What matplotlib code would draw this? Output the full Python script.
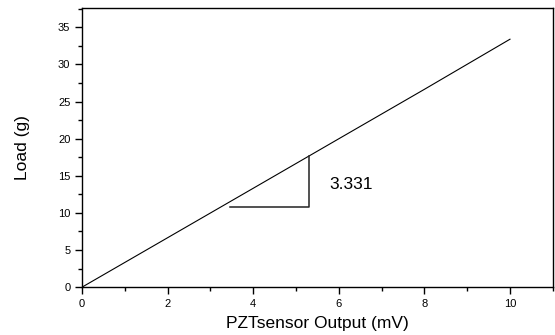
import matplotlib
matplotlib.use('Agg')
import matplotlib.pyplot as plt
from matplotlib.ticker import MultipleLocator

plt.rcParams['font.family'] = ['Liberation Sans', 'DejaVu Sans']

# data
output_mv = [0, 2, 4, 6, 8, 10]
load_g = [0, 6.66, 13.32, 19.99, 26.65, 33.4]

# slope triangle
tri_x = [3.45, 5.31, 5.31]
tri_y = [10.8, 10.8, 17.6]
slope_text = '3.331'

fig = plt.figure(figsize=(5.55, 3.35), dpi=100)
ax = fig.add_axes([0.148, 0.143, 0.848, 0.833])

ax.plot(output_mv, load_g, color='black', lw=0.8)
ax.plot(tri_x, tri_y, color='#222222', lw=1.1)
ax.text(5.78, 13.8, slope_text, fontsize=12.5, va='center', ha='left')

ax.set_xlim(0, 11)
ax.set_ylim(0, 37.6)
ax.xaxis.set_major_locator(MultipleLocator(2))
ax.xaxis.set_minor_locator(MultipleLocator(1))
ax.yaxis.set_major_locator(MultipleLocator(5))
ax.yaxis.set_minor_locator(MultipleLocator(2.5))
ax.tick_params(which='major', direction='out', length=5, width=1, labelsize=8)
ax.tick_params(which='minor', direction='out', length=3, width=1)
for s in ax.spines.values():
    s.set_linewidth(1.0)

ax.set_xlabel('PZTsensor Output (mV)', fontsize=12.5, labelpad=5)
ax.set_ylabel('Load (g)', fontsize=12.5, labelpad=20)

fig.savefig('out.png', dpi=100)
